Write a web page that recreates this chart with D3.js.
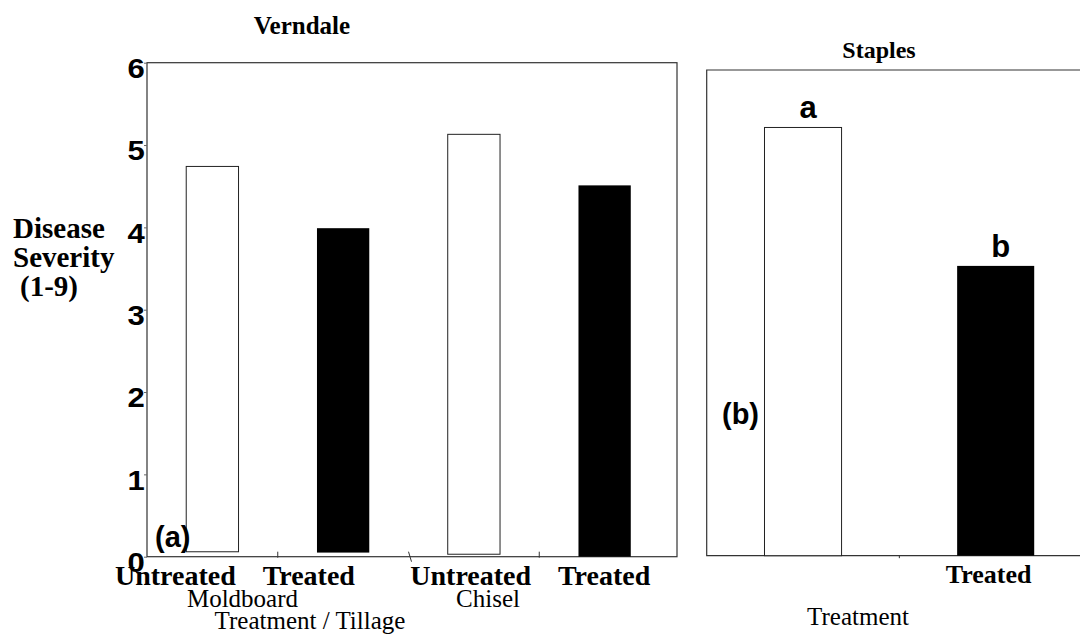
<!DOCTYPE html>
<html>
<head>
<meta charset="utf-8">
<script src="https://cdn.jsdelivr.net/npm/d3@7"></script>
<style>
  html, body { margin: 0; padding: 0; background: #fff; }
  svg { display: block; }
</style>
</head>
<body>
<svg id="chart" width="1080" height="635"></svg>
<script>
// ---------- data ----------
const verndaleCategories = ["Moldboard Untreated", "Moldboard Treated", "Chisel Untreated", "Chisel Treated"];
const verndaleTickLabels = ["Untreated", "Treated", "Untreated", "Treated"];
const verndaleTreated = [false, true, false, true];
const verndaleValues = [4.74, 3.99, 5.13, 4.51];
const verndaleBase = [0.06, 0.05, 0.03, 0.0];
const tillageGroups = ["Moldboard", "Chisel"];
const yTicks = [0, 1, 2, 3, 4, 5, 6];

const staplesCategories = ["Untreated", "Treated"];
const staplesTickLabels = ["", "Treated"];
const staplesTreated = [false, true];
const staplesValues = [5.29, 3.58];
const staplesLetters = ["a", "b"];

// ---------- setup ----------
const svg = d3.select("#chart");
const serif = "'Liberation Serif', 'Times New Roman', serif";
const sans = "'Liberation Sans', Arial, sans-serif";
const frameColor = "#333";

// ===== Panel (a): Verndale =====
const aLeft = 147, aRight = 677, aTop = 62.7, aBottom = 556.7;
const xA = d3.scaleBand().domain(verndaleCategories).range([147, 670]).paddingInner(0).paddingOuter(0);
const yA = d3.scaleLinear().domain([0, 6]).range([aBottom, aTop]);
const barWA = xA.bandwidth() * 0.4;

// frame
svg.append("rect")
  .attr("x", aLeft).attr("y", aTop)
  .attr("width", aRight - aLeft).attr("height", aBottom - aTop)
  .attr("fill", "none").attr("stroke", frameColor).attr("stroke-width", 1.2);

// bars
svg.append("g").selectAll("rect")
  .data(verndaleCategories)
  .join("rect")
  .attr("x", (d) => xA(d) + xA.bandwidth() / 2 - barWA / 2)
  .attr("width", barWA)
  .attr("y", (d, i) => yA(verndaleValues[i]))
  .attr("height", (d, i) => yA(verndaleBase[i]) - yA(verndaleValues[i]))
  .attr("fill", (d, i) => verndaleTreated[i] ? "#000" : "#fff")
  .attr("stroke", (d, i) => verndaleTreated[i] ? "none" : "#222")
  .attr("stroke-width", 1);

// y axis
const yAxis = d3.axisLeft(yA).tickValues(yTicks).tickFormat(d3.format("d")).tickSize(3).tickPadding(-1);
const gy = svg.append("g").attr("transform", `translate(${aLeft},0)`).call(yAxis);
gy.select(".domain").remove();
gy.selectAll(".tick line").attr("stroke", "#666");
gy.selectAll(".tick text")
  .attr("font-family", sans).attr("font-weight", "bold").attr("font-size", 27)
  .attr("fill", "#000").attr("y", 6)
  .attr("transform", "scale(1.15,1)");

// x axis ticks at band boundaries
svg.append("g").selectAll("line")
  .data(verndaleCategories.slice(1))
  .join("line")
  .attr("x1", (d) => xA(d)).attr("x2", (d, i) => xA(d) + (i === 1 ? 3 : 0))
  .attr("y1", aBottom - 5)
  .attr("y2", (d, i) => aBottom + (i === 1 ? 5 : 1))
  .attr("stroke", "#333").attr("stroke-width", 1);

// category labels (left aligned, evenly spaced)
const labelX = d3.scalePoint().domain(verndaleCategories).range([115, 558]);
svg.append("g").selectAll("text")
  .data(verndaleCategories)
  .join("text")
  .attr("x", (d) => labelX(d)).attr("y", 585)
  .attr("font-family", serif).attr("font-weight", "bold").attr("font-size", 28)
  .text((d, i) => verndaleTickLabels[i]);

// tillage group labels
const groupX = d3.scalePoint().domain(tillageGroups).range([242.5, 488]);
svg.append("g").selectAll("text")
  .data(tillageGroups)
  .join("text")
  .attr("x", (d) => groupX(d)).attr("y", 607)
  .attr("text-anchor", "middle")
  .attr("font-family", serif).attr("font-size", 25)
  .text((d) => d);

svg.append("text")
  .attr("x", 310).attr("y", 629).attr("text-anchor", "middle")
  .attr("font-family", serif).attr("font-size", 25)
  .text("Treatment / Tillage");

// title
svg.append("text")
  .attr("x", 302).attr("y", 34).attr("text-anchor", "middle")
  .attr("font-family", serif).attr("font-weight", "bold").attr("font-size", 25)
  .text("Verndale");

// y axis title
const yTitle = svg.append("text")
  .attr("font-family", serif).attr("font-weight", "bold").attr("font-size", 29);
yTitle.append("tspan").attr("x", 13).attr("y", 238).text("Disease");
yTitle.append("tspan").attr("x", 13).attr("y", 267).text("Severity");
yTitle.append("tspan").attr("x", 20).attr("y", 296).text("(1-9)");

// panel label (a)
svg.append("text")
  .attr("x", 155).attr("y", 547)
  .attr("font-family", sans).attr("font-weight", "bold").attr("font-size", 29)
  .text("(a)");

// ===== Panel (b): Staples =====
const bLeft = 706.7, bTop = 70, bBottom = 555.7;
const xB = d3.scaleBand().domain(staplesCategories).range([706.7, 1092]).paddingInner(0).paddingOuter(0);
const yB = d3.scaleLinear().domain([0, 6]).range([bBottom, bTop]);
const barWB = xB.bandwidth() * 0.4;

// frame (open to the right, cut by image edge)
svg.append("path")
  .attr("d", `M1085,${bTop} H${bLeft} V${bBottom} H1085`)
  .attr("fill", "none").attr("stroke", frameColor).attr("stroke-width", 1.2);

svg.append("g").selectAll("rect")
  .data(staplesCategories)
  .join("rect")
  .attr("x", (d) => xB(d) + xB.bandwidth() / 2 - barWB / 2)
  .attr("width", barWB)
  .attr("y", (d, i) => yB(staplesValues[i]))
  .attr("height", (d, i) => yB(0) - yB(staplesValues[i]))
  .attr("fill", (d, i) => staplesTreated[i] ? "#000" : "#fff")
  .attr("stroke", (d, i) => staplesTreated[i] ? "none" : "#222")
  .attr("stroke-width", 1);

// significance letters
svg.append("g").selectAll("text")
  .data(staplesCategories)
  .join("text")
  .attr("x", (d) => xB(d) + xB.bandwidth() / 2 + 5)
  .attr("y", (d, i) => yB(staplesValues[i]) - 9)
  .attr("text-anchor", "middle")
  .attr("font-family", sans).attr("font-weight", "bold").attr("font-size", 31)
  .text((d, i) => staplesLetters[i]);

// tick between categories
svg.append("line")
  .attr("x1", xB(staplesCategories[1])).attr("x2", xB(staplesCategories[1]))
  .attr("y1", bBottom).attr("y2", bBottom + 2.5)
  .attr("stroke", "#333");

// category labels
svg.append("g").selectAll("text")
  .data(staplesCategories)
  .join("text")
  .attr("x", (d) => xB(d) + xB.bandwidth() / 2 - 7)
  .attr("y", 583)
  .attr("text-anchor", "middle")
  .attr("font-family", serif).attr("font-weight", "bold").attr("font-size", 26)
  .text((d, i) => staplesTickLabels[i]);

svg.append("text")
  .attr("x", 858).attr("y", 625).attr("text-anchor", "middle")
  .attr("font-family", serif).attr("font-size", 25)
  .text("Treatment");

svg.append("text")
  .attr("x", 879).attr("y", 57.5).attr("text-anchor", "middle")
  .attr("font-family", serif).attr("font-weight", "bold").attr("font-size", 24)
  .text("Staples");

svg.append("text")
  .attr("x", 722).attr("y", 424)
  .attr("font-family", sans).attr("font-weight", "bold").attr("font-size", 29)
  .text("(b)");
</script>
</body>
</html>
